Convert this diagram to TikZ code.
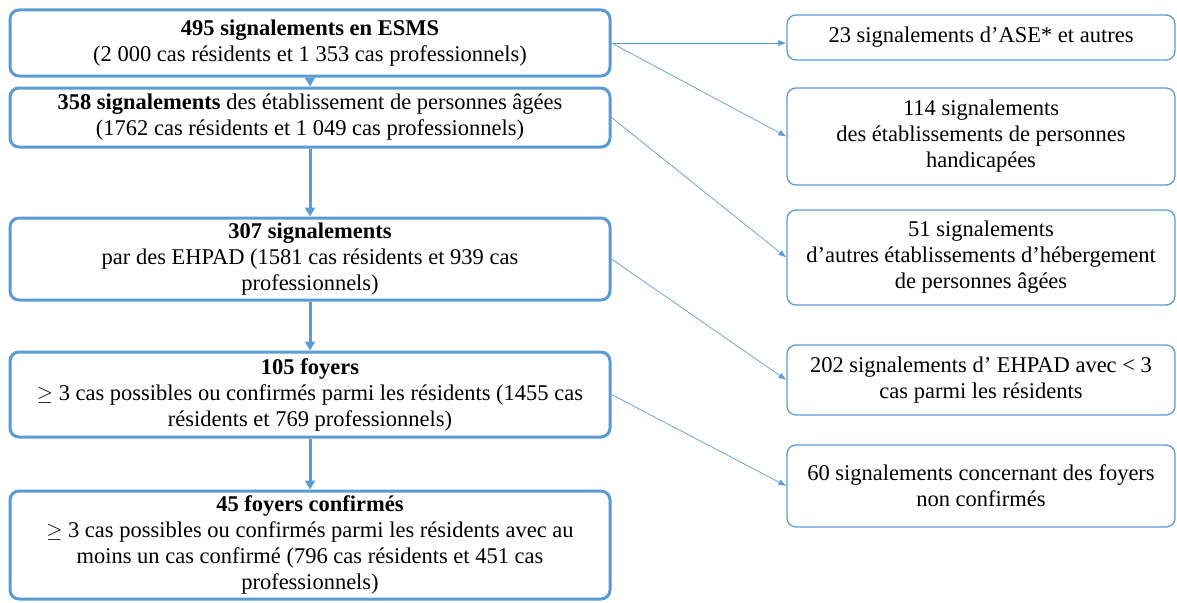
\documentclass[tikz,border=0pt]{standalone}
\usepackage{fontspec}
\setmainfont{Liberation Serif}
\usetikzlibrary{arrows.meta}

\definecolor{boxblue}{RGB}{91,155,213}

\tikzset{
  mainbox/.style={draw=boxblue, line width=3pt, rounded corners=9pt, align=center,
    minimum width=600pt, inner sep=0pt},
  sidebox/.style={draw=boxblue, line width=1.3pt, rounded corners=9pt, align=center,
    minimum width=388pt, inner sep=0pt},
  down/.style={draw=boxblue, line width=3pt, -{Triangle[length=9pt,width=10pt]}},
  side/.style={draw=boxblue, line width=0.7pt, -{Latex[length=8pt,width=6pt]}}
}

\begin{document}
\begin{tikzpicture}[x=1pt,y=-1pt,font=\fontsize{22.5}{26}\selectfont]
\useasboundingbox (0,0) rectangle (1177,602);

% main chain
\node[mainbox, minimum height=66pt] (esms) at (310,43)
  {\textbf{495 signalements en ESMS}\\(2 000 cas résidents et 1 353 cas professionnels)};
\node[mainbox, minimum height=59pt] (ehpa) at (310,117.5)
  {\textbf{358 signalements} des établissement de personnes  âgées\\(1762 cas résidents et 1 049 cas professionnels)};
\node[mainbox, minimum height=82pt] (ehpad) at (310,259)
  {\textbf{307 signalements}\\par des EHPAD (1581 cas résidents et 939 cas\\professionnels)};
\node[mainbox, minimum height=85pt] (foyers) at (310,394.5)
  {\textbf{105 foyers}\\$\geq$ 3 cas possibles ou  confirmés  parmi les résidents (1455 cas\\résidents et 769 professionnels)};
\node[mainbox, minimum height=108pt] (confirm) at (310,545)
  {\textbf{45 foyers confirmés}\\$\geq$ 3 cas possibles ou confirmés parmi les   résidents avec au\\moins un cas confirmé (796 cas résidents et 451 cas\\professionnels)};

% exclusions
\node[sidebox, minimum height=45pt] (ase) at (981,37.5)
  {23 signalements d’ASE* et autres};
\node[sidebox, minimum height=97pt] (handi) at (981,136.5)
  {114 signalements\\des établissements de personnes\\handicapées};
\node[sidebox, minimum height=95pt] (autres) at (981,257.5)
  {51 signalements\\d’autres établissements d’hébergement\\de personnes âgées};
\node[sidebox, minimum height=70pt] (moins) at (981,380)
  {202 signalements d’ EHPAD avec < 3\\cas parmi les résidents};
\node[sidebox, minimum height=82pt] (nonconf) at (981,486)
  {60 signalements concernant  des foyers\\non confirmés};

\draw[down] (esms) -- (ehpa);
\draw[down] (ehpa) -- (ehpad);
\draw[down] (ehpad) -- (foyers);
\draw[down] (foyers) -- (confirm);

\draw[side] (esms.east) -- (ase.west |- esms.east);
\draw[side] (esms.east) -- (handi.west);
\draw[side] (ehpa.east) -- (autres.west);
\draw[side] (ehpad.east) -- (moins.west);
\draw[side] (foyers.east) -- (nonconf.west);

\end{tikzpicture}
\end{document}
